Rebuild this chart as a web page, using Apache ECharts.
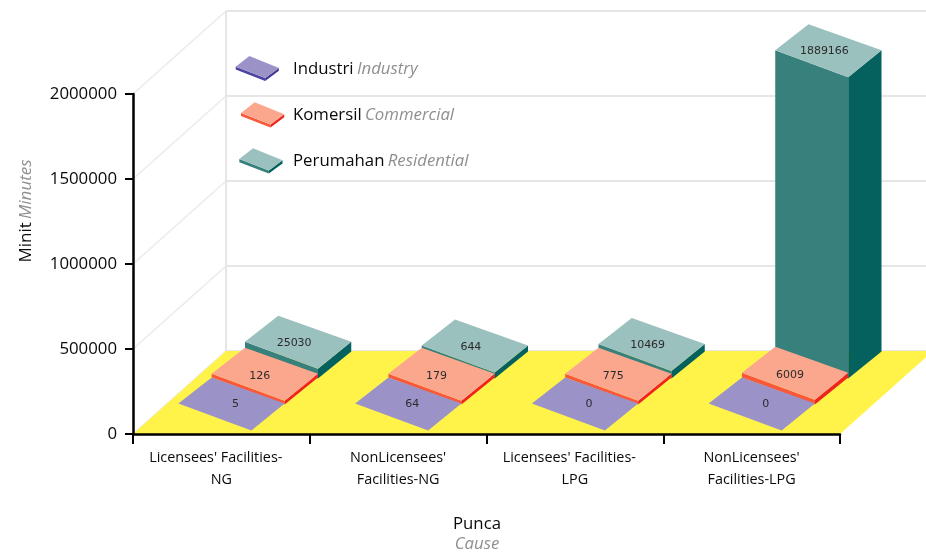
<!DOCTYPE html>
<html><head><meta charset="utf-8">
<style>html,body{margin:0;padding:0;background:#fff}#c{width:926px;height:552px}</style>
<script src="https://cdn.jsdelivr.net/npm/echarts@6/dist/echarts.min.js"></script>
</head><body><div id="c"></div>
<script>
const categories = ["Licensees' Facilities-\nNG", "NonLicensees'\nFacilities-NG", "Licensees' Facilities-\nLPG", "NonLicensees'\nFacilities-LPG"];
const industri = [5, 64, 0, 0];
const komersil = [126, 179, 775, 6009];
const perumahan = [25030, 644, 10469, 1889166];
const yTicks = [0, 500000, 1000000, 1500000, 2000000];
const namesMs = ['Industri', 'Komersil', 'Perumahan'];
const namesEn = ['Industry', 'Commercial', 'Residential'];

const FONT = '"Open Sans", sans-serif';
const GRAY = '#8f8f8f', INK = '#0a0a0a';
// oblique projection of the floor and of the slabs
const WALL = [93, -83];
const STEP = [33.3, -26], BACK = [33.3, -26], RIGHT = [106.3, 0], FRONT = [73, 27];
const ORIGIN = [-43, -30.5];
const HEIGHT_K = 0.92;
const layers = [
  {top: '#9B93C7', front: '#4A44A0', side: '#3F3A96', slab: 0,   labelDx: 4,  labelDy: 1},
  {top: '#FBA78D', front: '#F9583A', side: '#EF2320', slab: 3.7, labelDx: -5, labelDy: 2},
  {top: '#9BC1BF', front: '#37807C', side: '#05615E', slab: 5.8, labelDx: -4, labelDy: 1.4}
];
const poly = (pts, fill, z2) => ({type: 'polygon', z2: z2, shape: {points: pts}, style: {fill: fill}, silent: true});
const add = (p, v, k = 1) => [p[0] + v[0] * k, p[1] + v[1] * k];

function barRender(layerIndex) {
  const L = layers[layerIndex];
  return function (params, api) {
    const i = api.value(0), v = api.value(1);
    const base = api.coord([i, 0]), val = api.coord([i, v]);
    const h = L.slab + (base[1] - val[1]) * HEIGHT_K;
    const b = add(add(base, ORIGIN), STEP, layerIndex);      // base-left corner
    const t = [b[0], b[1] - h];                              // top-left corner
    const tB = add(t, BACK), tR = add(t, RIGHT), tF = add(t, FRONT);
    const bR = add(b, RIGHT), bF = add(b, FRONT);
    const cx = (t[0] + tR[0]) / 2, cy = t[1];
    const kids = [];
    if (h > 0.4) {
      kids.push(poly([t, tF, bF, b], L.front, 1));
      kids.push(poly([tF, tR, bR, bF], L.side, 1));
    }
    kids.push(poly([t, tB, tR, tF], L.top, 2));
    kids.push({type: 'text', z2: 3, silent: true, style: {
      x: cx + L.labelDx, y: cy + L.labelDy, text: String(v), align: 'center', verticalAlign: 'middle',
      font: '11px "DejaVu Sans", sans-serif', fill: '#2b2b2b'}});
    return {type: 'group', children: kids};
  };
}

function barSeries(name, values, layerIndex) {
  return {
    type: 'custom', name: name, z: 5 - layerIndex, clip: false,
    itemStyle: {color: layers[layerIndex].top},
    encode: {x: 0, y: 1},
    data: values.map((v, i) => [i, v]),
    renderItem: barRender(layerIndex)
  };
}

const wallSeries = {
  type: 'custom', z: 1, silent: true, clip: false, tooltip: {show: false},
  encode: {y: 0},
  data: yTicks.map(v => [v]),
  renderItem(params, api) {
    const y = api.coord([0, api.value(0)])[1];
    const x0 = params.coordSys.x;
    const back = add([x0, y], WALL);
    const kids = [
      {type: 'line', shape: {x1: x0, y1: y, x2: back[0], y2: back[1]}, style: {stroke: '#EBEBEB', lineWidth: 1.5}},
      {type: 'line', shape: {x1: back[0], y1: back[1], x2: api.getWidth(), y2: back[1]}, style: {stroke: '#E6E6E6', lineWidth: 2}}
    ];
    if (params.dataIndex === 0) {
      const top = add([x0, params.coordSys.y], WALL);
      kids.push({type: 'line', shape: {x1: top[0], y1: top[1], x2: back[0], y2: back[1]}, style: {stroke: '#E6E6E6', lineWidth: 2}});
    }
    return {type: 'group', children: kids};
  }
};

const floorSeries = {
  type: 'custom', z: 2, silent: true, clip: false, tooltip: {show: false},
  encode: {y: 0},
  data: [[0]],
  renderItem(params, api) {
    const c = params.coordSys, y = api.coord([0, 0])[1] ;
    const a = [c.x, y], b = [c.x + c.width, y];
    return poly([a, add(a, WALL, 1), add(b, WALL, 1), b], '#FFF34A', 0);
  }
};

// legend slab icons (drawn next to the legend's own text)
const legendSlabs = [[235.7, 66.7, 2.8], [241, 113, 3], [239.3, 159, 3.2]].flatMap((s, i) => {
  const [x, y, th] = s, L = layers[i];
  const t = [x, y], tB = [x + 13.7, y - 10.7], tR = [x + 43.2, y + 1.3], tF = [x + 29.5, y + 11.4];
  const d = p => [p[0], p[1] + th];
  return [
    {type: 'polygon', z: 6, silent: true, shape: {points: [t, tF, d(tF), d(t)]}, style: {fill: L.front}},
    {type: 'polygon', z: 6, silent: true, shape: {points: [tF, tR, d(tR), d(tF)]}, style: {fill: L.side}},
    {type: 'polygon', z: 6, silent: true, shape: {points: [t, tB, tR, tF]}, style: {fill: L.top}}
  ];
});

const chart = echarts.init(document.getElementById('c'), null, {renderer: 'canvas'});
chart.setOption({
  animation: false,
  backgroundColor: '#fff',
  grid: {left: 133, right: 86, top: 94, bottom: 118, containLabel: false, outerBoundsMode: 'none'},
  legend: {
    orient: 'vertical', left: 243, top: 52, itemWidth: 40, itemHeight: 24, itemGap: 22,
    selectedMode: false, icon: 'rect', itemStyle: {opacity: 0},
    data: namesMs,
    formatter: n => `{a|${n}} {b|${namesEn[namesMs.indexOf(n)]}}`,
    textStyle: {rich: {
      a: {fontFamily: FONT, fontSize: 16.8, color: INK},
      b: {fontFamily: FONT, fontSize: 16.8, fontStyle: 'italic', color: GRAY}
    }}
  },
  xAxis: {
    type: 'category', data: categories, z: 10,
    axisLine: {lineStyle: {color: '#000', width: 2.5}},
    axisTick: {show: true, length: 10, lineStyle: {color: '#000', width: 2}},
    axisLabel: {
      interval: 0, margin: 13, color: INK, fontFamily: FONT, fontSize: 14.4, lineHeight: 22, align: 'center',
      formatter: v => v.replace('-\n', '-   \n')
    },
    name: '{a|Punca}\n{b|Cause}', nameLocation: 'middle', nameGap: 80, nameMoveOverlap: false,
    nameTextStyle: {padding: [0, 19, 0, 0], rich: {
      a: {fontFamily: FONT, fontSize: 16.8, color: INK, lineHeight: 20},
      b: {fontFamily: FONT, fontSize: 16.8, fontStyle: 'italic', color: GRAY, lineHeight: 20}
    }}
  },
  yAxis: {
    type: 'value', min: 0, max: 2000000, interval: 500000, z: 10,
    axisLine: {show: true, lineStyle: {color: '#000', width: 2.5}},
    axisTick: {show: true, length: 8, lineStyle: {color: '#000', width: 2}},
    splitLine: {show: false},
    axisLabel: {margin: 16, color: INK, fontFamily: FONT, fontSize: 16.8, formatter: v => String(v)},
    name: '{a|Minit} {b|Minutes}', nameLocation: 'middle', nameRotate: 90, nameGap: 98, nameMoveOverlap: false,
    nameTextStyle: {padding: [0, 0, 0, 106], rich: {
      a: {fontFamily: FONT, fontSize: 17, color: INK},
      b: {fontFamily: FONT, fontSize: 17, fontStyle: 'italic', color: GRAY}
    }}
  },
  graphic: {elements: legendSlabs},
  series: [
    wallSeries, floorSeries,
    barSeries(namesMs[2], perumahan, 2),
    barSeries(namesMs[1], komersil, 1),
    barSeries(namesMs[0], industri, 0)
  ]
});
</script></body></html>
